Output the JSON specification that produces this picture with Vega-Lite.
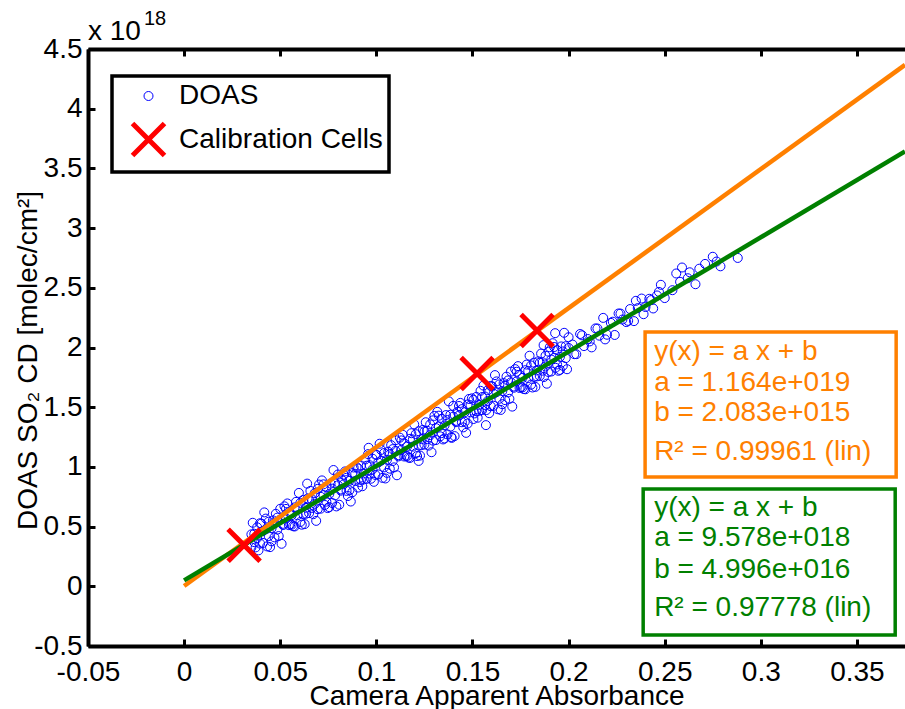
{
  "$schema": "https://vega.github.io/schema/vega-lite/v6.json",
  "width": 817,
  "height": 597,
  "autosize": {"type": "none"},
  "padding": {"left": 88, "top": 49, "right": 0, "bottom": 63},
  "background": "white",
  "config": {
    "font": "Liberation Sans",
    "view": {"stroke": null},
    "legend": {"strokeWidth": 3.5},
    "axis": {"grid": false, "labelFont": "Liberation Sans", "titleFont": "Liberation Sans", "labelFontSize": 28, "titleFontSize": 28, "titleFontWeight": "normal", "labelColor": "black", "titleColor": "black", "domainColor": "black", "tickColor": "black", "domainWidth": 4, "tickWidth": 3, "tickSize": -7, "labelFlush": false, "labelOverlap": false, "labelBound": false}
  },
  "datasets": {
    "doas": [
      {"x":0.035,"y":0.435},{"x":0.035,"y":0.325},{"x":0.0365,"y":0.370},{"x":0.0365,"y":0.440},{"x":0.038,"y":0.494},{"x":0.038,"y":0.404},{"x":0.0395,"y":0.358},{"x":0.0395,"y":0.528},{"x":0.041,"y":0.463},{"x":0.041,"y":0.363},
      {"x":0.0425,"y":0.567},{"x":0.0425,"y":0.477},{"x":0.044,"y":0.421},{"x":0.044,"y":0.541},{"x":0.0455,"y":0.486},{"x":0.0455,"y":0.376},{"x":0.047,"y":0.410},{"x":0.047,"y":0.530},{"x":0.0485,"y":0.575},{"x":0.0485,"y":0.475},
      {"x":0.05,"y":0.559},{"x":0.05,"y":0.649},{"x":0.0515,"y":0.523},{"x":0.0515,"y":0.513},{"x":0.053,"y":0.648},{"x":0.053,"y":0.568},{"x":0.0545,"y":0.512},{"x":0.0545,"y":0.622},{"x":0.056,"y":0.596},{"x":0.056,"y":0.516},
      {"x":0.0575,"y":0.501},{"x":0.0575,"y":0.661},{"x":0.059,"y":0.655},{"x":0.059,"y":0.595},{"x":0.0605,"y":0.699},{"x":0.0605,"y":0.539},{"x":0.062,"y":0.604},{"x":0.062,"y":0.724},{"x":0.0635,"y":0.658},{"x":0.0635,"y":0.608},
      {"x":0.065,"y":0.723},{"x":0.065,"y":0.613},{"x":0.0665,"y":0.657},{"x":0.0665,"y":0.727},{"x":0.068,"y":0.781},{"x":0.068,"y":0.691},{"x":0.0695,"y":0.646},{"x":0.0695,"y":0.816},{"x":0.071,"y":0.750},{"x":0.071,"y":0.650},
      {"x":0.0725,"y":0.854},{"x":0.0725,"y":0.764},{"x":0.074,"y":0.709},{"x":0.074,"y":0.829},{"x":0.0755,"y":0.773},{"x":0.0755,"y":0.663},{"x":0.077,"y":0.698},{"x":0.077,"y":0.818},{"x":0.0785,"y":0.862},{"x":0.0785,"y":0.762},
      {"x":0.08,"y":0.846},{"x":0.08,"y":0.936},{"x":0.0815,"y":0.811},{"x":0.0815,"y":0.801},{"x":0.083,"y":0.935},{"x":0.083,"y":0.855},{"x":0.0845,"y":0.799},{"x":0.0845,"y":0.909},{"x":0.086,"y":0.884},{"x":0.086,"y":0.804},
      {"x":0.0875,"y":0.788},{"x":0.0875,"y":0.948},{"x":0.089,"y":0.942},{"x":0.089,"y":0.882},{"x":0.0905,"y":0.987},{"x":0.0905,"y":0.827},{"x":0.092,"y":0.891},{"x":0.092,"y":1.011},{"x":0.0935,"y":0.945},{"x":0.0935,"y":0.895},
      {"x":0.095,"y":1.010},{"x":0.095,"y":0.900},{"x":0.0965,"y":0.944},{"x":0.0965,"y":1.014},{"x":0.098,"y":1.069},{"x":0.098,"y":0.979},{"x":0.0995,"y":0.933},{"x":0.0995,"y":1.103},{"x":0.101,"y":1.037},{"x":0.101,"y":0.937},
      {"x":0.1025,"y":1.142},{"x":0.1025,"y":1.052},{"x":0.104,"y":0.996},{"x":0.104,"y":1.116},{"x":0.1055,"y":1.060},{"x":0.1055,"y":0.950},{"x":0.107,"y":0.985},{"x":0.107,"y":1.105},{"x":0.1085,"y":1.149},{"x":0.1085,"y":1.049},
      {"x":0.11,"y":1.134},{"x":0.11,"y":1.224},{"x":0.1115,"y":1.098},{"x":0.1115,"y":1.088},{"x":0.113,"y":1.222},{"x":0.113,"y":1.142},{"x":0.1145,"y":1.087},{"x":0.1145,"y":1.197},{"x":0.116,"y":1.171},{"x":0.116,"y":1.091},
      {"x":0.1175,"y":1.075},{"x":0.1175,"y":1.235},{"x":0.119,"y":1.230},{"x":0.119,"y":1.170},{"x":0.1205,"y":1.274},{"x":0.1205,"y":1.114},{"x":0.122,"y":1.179},{"x":0.122,"y":1.299},{"x":0.1235,"y":1.233},{"x":0.1235,"y":1.183},
      {"x":0.125,"y":1.297},{"x":0.125,"y":1.187},{"x":0.1265,"y":1.232},{"x":0.1265,"y":1.302},{"x":0.128,"y":1.356},{"x":0.128,"y":1.266},{"x":0.1295,"y":1.220},{"x":0.1295,"y":1.390},{"x":0.131,"y":1.325},{"x":0.131,"y":1.225},
      {"x":0.1325,"y":1.429},{"x":0.1325,"y":1.339},{"x":0.134,"y":1.283},{"x":0.134,"y":1.403},{"x":0.1355,"y":1.348},{"x":0.1355,"y":1.238},{"x":0.137,"y":1.272},{"x":0.137,"y":1.392},{"x":0.1385,"y":1.437},{"x":0.1385,"y":1.337},
      {"x":0.14,"y":1.421},{"x":0.14,"y":1.511},{"x":0.1415,"y":1.385},{"x":0.1415,"y":1.375},{"x":0.143,"y":1.510},{"x":0.143,"y":1.430},{"x":0.1445,"y":1.374},{"x":0.1445,"y":1.484},{"x":0.146,"y":1.458},{"x":0.146,"y":1.378},
      {"x":0.1475,"y":1.363},{"x":0.1475,"y":1.523},{"x":0.149,"y":1.517},{"x":0.149,"y":1.457},{"x":0.1505,"y":1.561},{"x":0.1505,"y":1.401},{"x":0.152,"y":1.466},{"x":0.152,"y":1.586},{"x":0.1535,"y":1.520},{"x":0.1535,"y":1.470},
      {"x":0.155,"y":1.585},{"x":0.155,"y":1.475},{"x":0.1565,"y":1.519},{"x":0.1565,"y":1.589},{"x":0.158,"y":1.643},{"x":0.158,"y":1.553},{"x":0.1595,"y":1.508},{"x":0.1595,"y":1.678},{"x":0.161,"y":1.612},{"x":0.161,"y":1.512},
      {"x":0.1625,"y":1.716},{"x":0.1625,"y":1.626},{"x":0.164,"y":1.571},{"x":0.164,"y":1.691},{"x":0.1655,"y":1.635},{"x":0.1655,"y":1.525},{"x":0.167,"y":1.559},{"x":0.167,"y":1.679},{"x":0.1685,"y":1.724},{"x":0.1685,"y":1.624},
      {"x":0.17,"y":1.708},{"x":0.17,"y":1.798},{"x":0.1715,"y":1.673},{"x":0.1715,"y":1.663},{"x":0.173,"y":1.797},{"x":0.173,"y":1.717},{"x":0.1745,"y":1.661},{"x":0.1745,"y":1.771},{"x":0.176,"y":1.746},{"x":0.176,"y":1.666},
      {"x":0.1775,"y":1.650},{"x":0.1775,"y":1.810},{"x":0.179,"y":1.804},{"x":0.179,"y":1.744},{"x":0.1805,"y":1.849},{"x":0.1805,"y":1.689},{"x":0.182,"y":1.753},{"x":0.182,"y":1.873},{"x":0.1835,"y":1.808},{"x":0.1835,"y":1.758},
      {"x":0.185,"y":1.872},{"x":0.185,"y":1.762},{"x":0.1865,"y":1.806},{"x":0.1865,"y":1.876},{"x":0.188,"y":1.931},{"x":0.188,"y":1.841},{"x":0.1895,"y":1.795},{"x":0.1895,"y":1.965},{"x":0.191,"y":1.899},{"x":0.191,"y":1.799},
      {"x":0.1925,"y":2.004},{"x":0.1925,"y":1.914},{"x":0.194,"y":1.858},{"x":0.194,"y":1.978},{"x":0.1955,"y":1.922},{"x":0.1955,"y":1.812},{"x":0.197,"y":1.847},{"x":0.197,"y":1.967},{"x":0.1985,"y":2.011},{"x":0.1985,"y":1.911},
      {"x":0.2,"y":1.996},{"x":0.2,"y":2.086},
      {"x":0.0357,"y":0.532},{"x":0.0387,"y":0.301},{"x":0.0417,"y":0.619},{"x":0.0447,"y":0.328},{"x":0.0477,"y":0.607},{"x":0.0507,"y":0.356},{"x":0.0537,"y":0.694},{"x":0.0567,"y":0.503},{"x":0.0597,"y":0.782},{"x":0.0627,"y":0.521},
      {"x":0.0657,"y":0.799},{"x":0.0687,"y":0.548},{"x":0.0717,"y":0.887},{"x":0.0747,"y":0.655},{"x":0.0777,"y":0.974},{"x":0.0807,"y":0.683},{"x":0.0837,"y":0.962},{"x":0.0867,"y":0.710},{"x":0.0897,"y":0.999},{"x":0.0927,"y":0.838},
      {"x":0.0957,"y":1.107},{"x":0.0987,"y":0.875},{"x":0.1017,"y":1.194},{"x":0.1047,"y":0.903},{"x":0.1077,"y":1.182},{"x":0.1107,"y":0.930},{"x":0.1137,"y":1.269},{"x":0.1167,"y":1.078},{"x":0.1197,"y":1.356},{"x":0.1227,"y":1.095},
      {"x":0.1257,"y":1.374},{"x":0.1287,"y":1.123},{"x":0.1317,"y":1.461},{"x":0.1347,"y":1.230},{"x":0.1377,"y":1.549},{"x":0.1407,"y":1.258},{"x":0.1437,"y":1.536},{"x":0.1467,"y":1.285},{"x":0.1497,"y":1.574},{"x":0.1527,"y":1.412},
      {"x":0.1557,"y":1.681},{"x":0.1587,"y":1.450},{"x":0.1617,"y":1.769},{"x":0.1647,"y":1.477},{"x":0.1677,"y":1.756},{"x":0.1707,"y":1.505},{"x":0.1737,"y":1.844},{"x":0.1767,"y":1.652},{"x":0.1797,"y":1.931},{"x":0.1827,"y":1.670},
      {"x":0.1857,"y":1.949},{"x":0.1887,"y":1.697},{"x":0.1917,"y":2.036},{"x":0.1947,"y":1.805},{"x":0.1977,"y":2.123},
      {"x":0.0372,"y":0.326},{"x":0.0402,"y":0.525},{"x":0.0432,"y":0.334},{"x":0.0462,"y":0.552},{"x":0.0492,"y":0.421},{"x":0.0522,"y":0.670},{"x":0.0552,"y":0.519},{"x":0.0582,"y":0.707},{"x":0.0612,"y":0.516},{"x":0.0642,"y":0.735},
      {"x":0.0672,"y":0.604},{"x":0.0702,"y":0.852},{"x":0.0732,"y":0.681},{"x":0.0762,"y":0.860},{"x":0.0792,"y":0.669},{"x":0.0822,"y":0.887},{"x":0.0852,"y":0.756},{"x":0.0882,"y":0.995},{"x":0.0912,"y":0.873},{"x":0.0942,"y":1.062},
      {"x":0.0972,"y":0.901},{"x":0.1002,"y":1.100},{"x":0.1032,"y":0.908},{"x":0.1062,"y":1.127},{"x":0.1092,"y":0.996},{"x":0.1122,"y":1.245},{"x":0.1152,"y":1.093},{"x":0.1182,"y":1.282},{"x":0.1212,"y":1.091},{"x":0.1242,"y":1.310},
      {"x":0.1272,"y":1.178},{"x":0.1302,"y":1.427},{"x":0.1332,"y":1.256},{"x":0.1362,"y":1.434},{"x":0.1392,"y":1.243},{"x":0.1422,"y":1.462},{"x":0.1452,"y":1.331},{"x":0.1482,"y":1.569},{"x":0.1512,"y":1.448},{"x":0.1542,"y":1.637},
      {"x":0.1572,"y":1.476},{"x":0.1602,"y":1.674},{"x":0.1632,"y":1.483},{"x":0.1662,"y":1.702},{"x":0.1692,"y":1.570},{"x":0.1722,"y":1.819},{"x":0.1752,"y":1.668},{"x":0.1782,"y":1.857},{"x":0.1812,"y":1.665},{"x":0.1842,"y":1.884},
      {"x":0.1872,"y":1.753},{"x":0.1902,"y":2.002},{"x":0.1932,"y":1.830},{"x":0.1962,"y":2.009},{"x":0.1992,"y":1.818},
      {"x":0.122,"y":1.05},{"x":0.193,"y":2.12},{"x":0.187,"y":2.02},{"x":0.157,"y":1.35},{"x":0.064,"y":0.86},{"x":0.096,"y":1.16},{"x":0.139,"y":1.25},
      {"x":0.202,"y":2.025},{"x":0.204,"y":1.944},{"x":0.206,"y":2.113},{"x":0.208,"y":2.012},{"x":0.21,"y":2.071},{"x":0.212,"y":2.001},{"x":0.214,"y":2.160},{"x":0.216,"y":2.099},{"x":0.218,"y":2.248},{"x":0.22,"y":2.107},
      {"x":0.222,"y":2.206},{"x":0.224,"y":2.105},{"x":0.226,"y":2.285},{"x":0.228,"y":2.234},{"x":0.23,"y":2.213},{"x":0.232,"y":2.322},{"x":0.234,"y":2.221},{"x":0.236,"y":2.330},{"x":0.238,"y":2.410},{"x":0.24,"y":2.339},
      {"x":0.242,"y":2.408},{"x":0.244,"y":2.327},{"x":0.246,"y":2.436},{"x":0.248,"y":2.525},{"x":0.25,"y":2.414},
      {"x":0.203,"y":1.944},{"x":0.207,"y":2.102},{"x":0.211,"y":2.051},{"x":0.215,"y":2.159},{"x":0.219,"y":2.068},{"x":0.223,"y":2.216},{"x":0.227,"y":2.284},{"x":0.231,"y":2.223},{"x":0.235,"y":2.391},{"x":0.239,"y":2.279},
      {"x":0.243,"y":2.397},{"x":0.247,"y":2.466},
      {"x":0.254,"y":2.48},{"x":0.256,"y":2.62},{"x":0.258,"y":2.55},{"x":0.259,"y":2.67},{"x":0.262,"y":2.58},{"x":0.263,"y":2.63},{"x":0.266,"y":2.53},{"x":0.268,"y":2.66},{"x":0.271,"y":2.70},{"x":0.275,"y":2.76},
      {"x":0.277,"y":2.72},{"x":0.279,"y":2.68},{"x":0.288,"y":2.75}
    ],
    "cells": [{"x":0.0312,"y":0.344},{"x":0.1524,"y":1.783},{"x":0.1836,"y":2.142}],
    "fitOrange": [{"x":0,"y":0.002083},{"x":0.375,"y":4.3671}],
    "fitGreen": [{"x":0,"y":0.04996},{"x":0.375,"y":3.6417}],
    "boxOrange": [{"x1":0.2398,"x2":0.3704,"y1":2.130,"y2":0.915}],
    "boxGreen": [{"x1":0.2388,"x2":0.3699,"y1":0.815,"y2":-0.408}],
    "textOrange": [
      {"x":0.2445,"y":1.962,"t":"y(x) = a x + b"},
      {"x":0.2445,"y":1.703,"t":"a = 1.164e+019"},
      {"x":0.2445,"y":1.451,"t":"b = 2.083e+015"},
      {"x":0.2445,"y":1.125,"t":"R² = 0.99961 (lin)"}
    ],
    "textGreen": [
      {"x":0.2445,"y":0.656,"t":"y(x) = a x + b"},
      {"x":0.2445,"y":0.405,"t":"a = 9.578e+018"},
      {"x":0.2445,"y":0.136,"t":"b = 4.996e+016"},
      {"x":0.2445,"y":-0.182,"t":"R² = 0.97778 (lin)"}
    ],
    "exp1": [{"x":-0.05,"y":4.642,"t":"x 10"}],
    "exp2": [{"x":-0.0209,"y":4.751,"t":"18"}]
  },
  "resolve": {"axis": {"x": "independent"}},
  "layer": [
    {
      "data": {"name": "doas"},
      "mark": {"type": "point", "filled": false, "opacity": 1},
      "encoding": {
        "x": {"field": "x", "type": "quantitative", "scale": {"domain": [-0.05, 0.375], "nice": false, "zero": false},
              "axis": {"orient": "bottom", "values": [-0.05,0,0.05,0.1,0.15,0.2,0.25,0.3,0.35], "labelExpr": "'' + datum.value", "title": "Camera Apparent Absorbance", "labelPadding": 19, "titleY": 58, "titleBaseline": "alphabetic"}},
        "y": {"field": "y", "type": "quantitative", "scale": {"domain": [-0.5, 4.5], "nice": false, "zero": false},
              "axis": {"orient": "left", "values": [-0.5,0,0.5,1,1.5,2,2.5,3,3.5,4,4.5], "labelExpr": "'' + datum.value", "title": "DOAS SO₂ CD [molec/cm²]", "labelPadding": 13, "titleX": -60, "titleY": 311, "titleAngle": -90, "titleAlign": "center", "titleBaseline": "middle"}},
        "color": {"datum": "DOAS", "scale": {"domain": ["DOAS", "Calibration Cells"], "range": ["#0000FF", "#FF0000"]},
                  "legend": {"title": null, "orient": "none", "legendX": 24, "legendY": 27, "padding": 6, "rowPadding": 3, "symbolOffset": 12, "labelOffset": 12, "labelFontSize": 28, "labelLimit": 400, "labelColor": "black", "labelFont": "Liberation Sans", "strokeColor": "black", "fillColor": "white"}},
        "shape": {"datum": "DOAS", "scale": {"domain": ["DOAS", "Calibration Cells"], "range": ["circle", "M-1,-1L1,1M1,-1L-1,1"]},
                  "legend": {"title": null, "orient": "none", "legendX": 24, "legendY": 27, "padding": 6, "rowPadding": 3, "symbolOffset": 12, "labelOffset": 12, "labelFontSize": 28, "labelLimit": 400, "labelColor": "black", "labelFont": "Liberation Sans", "strokeColor": "black", "fillColor": "white"}},
        "size": {"datum": "DOAS", "scale": {"domain": ["DOAS", "Calibration Cells"], "range": [81, 1024]},
                  "legend": {"title": null, "orient": "none", "legendX": 24, "legendY": 27, "padding": 6, "rowPadding": 3, "symbolOffset": 12, "labelOffset": 12, "labelFontSize": 28, "labelLimit": 400, "labelColor": "black", "labelFont": "Liberation Sans", "strokeColor": "black", "fillColor": "white"}},
        "strokeWidth": {"datum": "DOAS", "scale": {"domain": ["DOAS", "Calibration Cells"], "range": [1, 5]},
                  "legend": {"title": null, "orient": "none", "legendX": 24, "legendY": 27, "padding": 6, "rowPadding": 3, "symbolOffset": 12, "labelOffset": 12, "labelFontSize": 28, "labelLimit": 400, "labelColor": "black", "labelFont": "Liberation Sans", "strokeColor": "black", "fillColor": "white"}}
      }
    },
    {
      "data": {"name": "fitOrange"},
      "mark": {"type": "line", "color": "#FF8000", "strokeWidth": 4.5, "clip": true},
      "encoding": {
        "x": {"field": "x", "type": "quantitative", "axis": null},
        "y": {"field": "y", "type": "quantitative"}
      }
    },
    {
      "data": {"name": "fitGreen"},
      "mark": {"type": "line", "color": "#008000", "strokeWidth": 4.5, "clip": true},
      "encoding": {
        "x": {"field": "x", "type": "quantitative", "axis": null},
        "y": {"field": "y", "type": "quantitative"}
      }
    },
    {
      "data": {"name": "cells"},
      "mark": {"type": "point", "filled": false, "opacity": 1},
      "encoding": {
        "x": {"field": "x", "type": "quantitative", "axis": null},
        "y": {"field": "y", "type": "quantitative"},
        "color": {"datum": "Calibration Cells"},
        "shape": {"datum": "Calibration Cells"},
        "size": {"datum": "Calibration Cells"},
        "strokeWidth": {"datum": "Calibration Cells"}
      }
    },
    {
      "data": {"name": "boxOrange"},
      "mark": {"type": "rect", "fill": "white", "stroke": "#FF8000", "strokeWidth": 3.5},
      "encoding": {
        "x": {"field": "x1", "type": "quantitative", "axis": null},
        "x2": {"field": "x2"},
        "y": {"field": "y1", "type": "quantitative"},
        "y2": {"field": "y2"}
      }
    },
    {
      "data": {"name": "boxGreen"},
      "mark": {"type": "rect", "fill": "white", "stroke": "#008000", "strokeWidth": 3.5},
      "encoding": {
        "x": {"field": "x1", "type": "quantitative", "axis": null},
        "x2": {"field": "x2"},
        "y": {"field": "y1", "type": "quantitative"},
        "y2": {"field": "y2"}
      }
    },
    {
      "data": {"name": "textOrange"},
      "mark": {"type": "text", "align": "left", "baseline": "middle", "fontSize": 28, "color": "#FF8000"},
      "encoding": {
        "x": {"field": "x", "type": "quantitative", "axis": null},
        "y": {"field": "y", "type": "quantitative"},
        "text": {"field": "t"}
      }
    },
    {
      "data": {"name": "textGreen"},
      "mark": {"type": "text", "align": "left", "baseline": "middle", "fontSize": 28, "color": "#008000"},
      "encoding": {
        "x": {"field": "x", "type": "quantitative", "axis": null},
        "y": {"field": "y", "type": "quantitative"},
        "text": {"field": "t"}
      }
    },
    {
      "data": {"name": "exp1"},
      "mark": {"type": "text", "align": "left", "baseline": "middle", "fontSize": 28, "color": "black", "clip": false},
      "encoding": {
        "x": {"field": "x", "type": "quantitative",
              "axis": {"orient": "top", "values": [-0.05,0,0.05,0.1,0.15,0.2,0.25,0.3,0.35], "labels": false, "title": null}},
        "y": {"field": "y", "type": "quantitative"},
        "text": {"field": "t"}
      }
    },
    {
      "data": {"name": "exp2"},
      "mark": {"type": "text", "align": "left", "baseline": "middle", "fontSize": 20, "color": "black", "clip": false},
      "encoding": {
        "x": {"field": "x", "type": "quantitative", "axis": null},
        "y": {"field": "y", "type": "quantitative"},
        "text": {"field": "t"}
      }
    }
  ]
}
